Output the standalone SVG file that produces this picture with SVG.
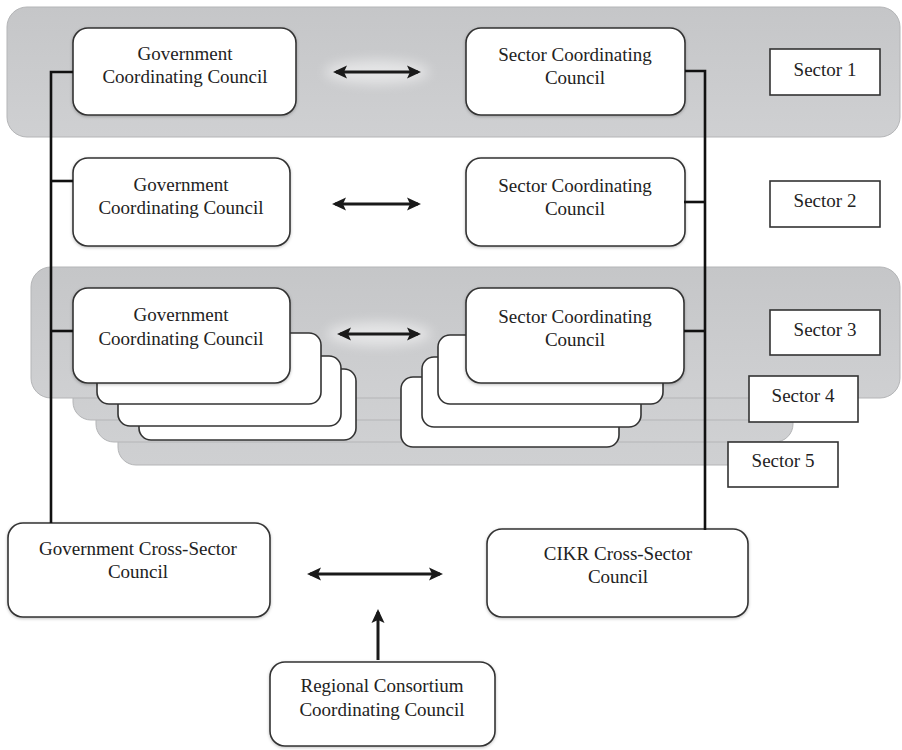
<svg xmlns="http://www.w3.org/2000/svg" width="902" height="750" viewBox="0 0 902 750">
  <style>
    .band { fill: url(#bandGrad); stroke: #b4b5b7; stroke-width: 1; }
    .box { fill: #ffffff; stroke: #333333; stroke-width: 1.6; filter: url(#shadow); }
    .sbox { fill: #ffffff; stroke: #333333; stroke-width: 1.6; }
    .lbl { fill: #ffffff; stroke: #333333; stroke-width: 1.6; }
    .t { font-family: 'Liberation Serif', 'Times New Roman', serif; font-size: 19px; fill: #222222; text-anchor: middle; }
    .conn { stroke: #111111; stroke-width: 2.6; fill: none; }
    .arr { stroke: #1a1a1a; stroke-width: 3; fill: none; marker-start: url(#ahs); marker-end: url(#ahe); }
    .glow { fill: #ffffff; opacity: 0.5; filter: url(#blur); }
  </style>
  <defs>
    <linearGradient id="bandGrad" x1="0" y1="0" x2="0" y2="1">
      <stop offset="0" stop-color="#c5c6c8"/>
      <stop offset="1" stop-color="#cfd0d2"/>
    </linearGradient>
    <filter id="shadow" x="-10%" y="-10%" width="120%" height="130%">
      <feDropShadow dx="0" dy="1" stdDeviation="1.5" flood-color="#000000" flood-opacity="0.25"/>
    </filter>
    <filter id="blur" x="-30%" y="-100%" width="160%" height="300%">
      <feGaussianBlur stdDeviation="6"/>
    </filter>
    <marker id="ahe" viewBox="0 0 14 14" refX="11" refY="7" markerWidth="14" markerHeight="14" markerUnits="userSpaceOnUse" orient="auto">
      <path d="M0,0.5 L14,7 L0,13.5 L3,7 Z" fill="#1a1a1a"/>
    </marker>
    <marker id="ahs" viewBox="0 0 14 14" refX="3" refY="7" markerWidth="14" markerHeight="14" markerUnits="userSpaceOnUse" orient="auto">
      <path d="M14,0.5 L0,7 L14,13.5 L11,7 Z" fill="#1a1a1a"/>
    </marker>
  </defs>

  <rect width="902" height="750" fill="#ffffff"/>

  <!-- background bands -->
  <g id="bands">
    <rect class="band" x="7" y="7" width="893" height="130" rx="20"/>
    <rect class="band" x="118" y="311" width="642" height="154" rx="18"/>
    <rect class="band" x="96" y="289" width="697" height="153" rx="18"/>
    <rect class="band" x="73" y="280" width="772" height="140" rx="18"/>
    <rect class="band" x="31" y="267" width="869" height="131" rx="20"/>
  </g>

  <!-- arrow glows -->
  <g id="glows">
    <ellipse class="glow" cx="377" cy="72" rx="52" ry="12"/>
    <ellipse class="glow" cx="379" cy="334" rx="52" ry="12"/>
  </g>

  <!-- Sector 1 -->
  <g id="gcc1">
    <rect class="box" x="73" y="28" width="223" height="87" rx="15"/>
    <text class="t" x="185" y="60">Government</text>
    <text class="t" x="185" y="83">Coordinating Council</text>
  </g>
  <g id="scc1">
    <rect class="box" x="466" y="28" width="219" height="87" rx="15"/>
    <text class="t" x="575" y="61">Sector Coordinating</text>
    <text class="t" x="575" y="84">Council</text>
  </g>
  <g id="sector1">
    <rect class="lbl" x="770" y="49" width="110" height="46"/>
    <text class="t" x="825" y="76">Sector 1</text>
  </g>

  <!-- Sector 2 -->
  <g id="gcc2">
    <rect class="box" x="73" y="158" width="217" height="88" rx="15"/>
    <text class="t" x="181" y="191">Government</text>
    <text class="t" x="181" y="214">Coordinating Council</text>
  </g>
  <g id="scc2">
    <rect class="box" x="466" y="158" width="219" height="88" rx="15"/>
    <text class="t" x="575" y="192">Sector Coordinating</text>
    <text class="t" x="575" y="215">Council</text>
  </g>
  <g id="sector2">
    <rect class="lbl" x="770" y="181" width="110" height="46"/>
    <text class="t" x="825" y="207">Sector 2</text>
  </g>

  <!-- Sector 3/4/5 stacked government councils -->
  <g id="gcc-stack">
    <rect class="sbox" x="139" y="369" width="217" height="71" rx="12"/>
    <rect class="sbox" x="118" y="356" width="223" height="70" rx="12"/>
    <rect class="sbox" x="97" y="333" width="224" height="71" rx="12"/>
  </g>
  <g id="gcc3">
    <rect class="box" x="73" y="288" width="217" height="95" rx="15"/>
    <text class="t" x="181" y="321">Government</text>
    <text class="t" x="181" y="345">Coordinating Council</text>
  </g>
  <g id="scc-stack">
    <rect class="sbox" x="401" y="377" width="218" height="70" rx="12"/>
    <rect class="sbox" x="422" y="357" width="219" height="70" rx="12"/>
    <rect class="sbox" x="438" y="335" width="225" height="69" rx="12"/>
  </g>
  <g id="scc3">
    <rect class="box" x="466" y="288" width="218" height="95" rx="15"/>
    <text class="t" x="575" y="323">Sector Coordinating</text>
    <text class="t" x="575" y="346">Council</text>
  </g>
  <g id="sector3">
    <rect class="lbl" x="770" y="310" width="110" height="45"/>
    <text class="t" x="825" y="336">Sector 3</text>
  </g>
  <g id="sector4">
    <rect class="lbl" x="749" y="376" width="109" height="46"/>
    <text class="t" x="803" y="402">Sector 4</text>
  </g>
  <g id="sector5">
    <rect class="lbl" x="728" y="442" width="110" height="45"/>
    <text class="t" x="783" y="467">Sector 5</text>
  </g>

  <!-- Bottom councils -->
  <g id="gov-cross">
    <rect class="box" x="8" y="523" width="262" height="94" rx="15"/>
    <text class="t" x="138" y="555">Government Cross-Sector</text>
    <text class="t" x="138" y="578">Council</text>
  </g>
  <g id="cikr-cross">
    <rect class="box" x="487" y="529" width="261" height="88" rx="15"/>
    <text class="t" x="618" y="560">CIKR Cross-Sector</text>
    <text class="t" x="618" y="583">Council</text>
  </g>
  <g id="regional">
    <rect class="box" x="270" y="662" width="225" height="84" rx="15"/>
    <text class="t" x="382" y="692">Regional Consortium</text>
    <text class="t" x="382" y="716">Coordinating Council</text>
  </g>

  <!-- connectors -->
  <g id="connectors">
    <path class="conn" d="M51,523 V72 H73"/>
    <path class="conn" d="M51,181 H73"/>
    <path class="conn" d="M51,331 H73"/>
    <path class="conn" d="M705,530 V71 H685"/>
    <path class="conn" d="M705,202 H684"/>
    <path class="conn" d="M705,331 H684"/>
    <line class="arr" x1="336" y1="72" x2="418" y2="72"/>
    <line class="arr" x1="335" y1="204" x2="418" y2="204"/>
    <line class="arr" x1="340" y1="334" x2="418" y2="334"/>
    <line class="arr" x1="310" y1="574" x2="440" y2="574"/>
    <line x1="378" y1="660" x2="378" y2="612" stroke="#1a1a1a" stroke-width="3" marker-end="url(#ahe)"/>
  </g>
</svg>
